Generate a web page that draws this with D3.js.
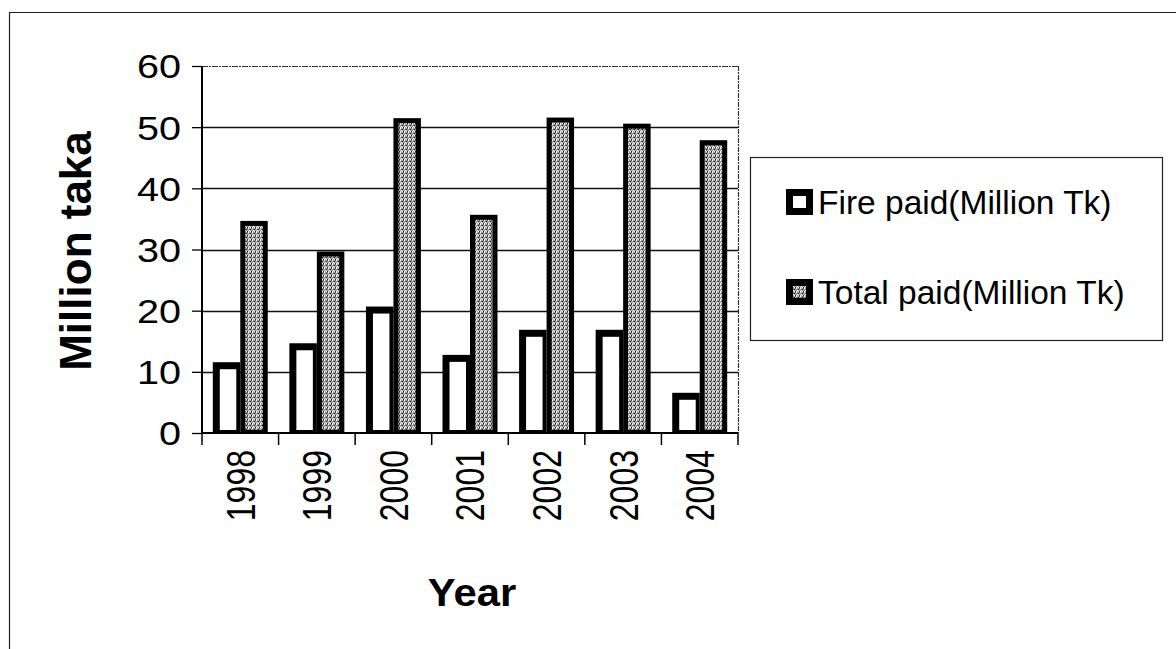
<!DOCTYPE html>
<html><head><meta charset="utf-8">
<script src="https://cdn.jsdelivr.net/npm/d3@7"></script>
<style>
html,body{margin:0;padding:0;background:#fff;}
text{font-family:Arial,"Liberation Sans",sans-serif;fill:#000;}
</style></head>
<body>
<svg id="c" width="1176" height="649"></svg>
<script>
const years = ["1998","1999","2000","2001","2002","2003","2004"];
const seriesNames = ["Fire paid(Million Tk)","Total paid(Million Tk)"];
const firePaid = [11, 14.1, 20.1, 12.2, 16.3, 16.3, 6];
const totalPaid = [34.1, 29.1, 50.9, 35.1, 51, 50, 47.3];
const yTicks = [0,10,20,30,40,50,60];

const svg = d3.select("#c");
const defs = svg.append("defs");
const pat = defs.append("pattern").attr("id","stip").attr("width",4).attr("height",4).attr("patternUnits","userSpaceOnUse");
pat.append("rect").attr("width",4).attr("height",4).attr("fill","#a0a0a0");
[[0,0,"#fff"],[2,1,"#222"],[1,2,"#fff"],[3,3,"#222"],[3,0,"#555"],[0,3,"#eee"],[2,3,"#fff"],[1,1,"#666"]].forEach(p=>{
  pat.append("rect").attr("x",p[0]).attr("y",p[1]).attr("width",1).attr("height",1).attr("fill",p[2]);
});

const L=202, R=738, T=66, B=433;
const y = d3.scaleLinear().domain([0,60]).range([B,T]);
const x0 = d3.scaleBand().domain(years).range([L,R]).padding(0);
const gap = 10.8;
const x1 = d3.scaleBand().domain(seriesNames).range([gap, x0.bandwidth()-gap]).padding(0);

svg.append("path").attr("d","M9.5,649 V12.5 H1176").attr("fill","none").attr("stroke","#222").attr("stroke-width",1.2);

svg.append("g").selectAll("line").data(yTicks.filter(t=>t>0&&t<60)).join("line")
  .attr("x1",L).attr("x2",R).attr("y1",d=>Math.round(y(d))+0.5).attr("y2",d=>Math.round(y(d))+0.5)
  .attr("stroke","#111").attr("stroke-width",1.3);
svg.append("line").attr("x1",L).attr("x2",R).attr("y1",y(60)+0.5).attr("y2",y(60)+0.5)
  .attr("stroke","#333").attr("stroke-width",1.2).attr("stroke-dasharray","6,1,2,1");
svg.append("line").attr("x1",R+0.5).attr("x2",R+0.5).attr("y1",T).attr("y2",B)
  .attr("stroke","#333").attr("stroke-width",1.2).attr("stroke-dasharray","5,1,2,1");

const rows = years.map((yr,i)=>({yr, vals:[firePaid[i], totalPaid[i]]}));
const g = svg.append("g");
rows.forEach(r=>{
  r.vals.forEach((v,k)=>{
    const bx = x0(r.yr)+x1(seriesNames[k]);
    const bw = x1.bandwidth();
    const top = y(v)-3.5;
    const bwid = k===0?7:5;
    g.append("rect").attr("x",bx).attr("y",top).attr("width",bw).attr("height",B-top).attr("fill","#000");
    g.append("rect").attr("x",bx+bwid).attr("y",top+bwid).attr("width",bw-bwid*2 + (k===0?3:0)).attr("height",Math.max(0,B-3-(top+bwid)))
      .attr("fill",k===0?"#fff":"url(#stip)");
  });
});

const ya = svg.append("g").attr("transform",`translate(${L},0)`)
  .call(d3.axisLeft(y).tickValues(yTicks).tickSize(10).tickPadding(12));
ya.select(".domain").attr("stroke","#000").attr("stroke-width",2).attr("d",`M0,${T}V${B}`);
ya.selectAll(".tick line").attr("stroke","#000").attr("stroke-width",1.3);
ya.selectAll(".tick text").attr("font-size",33).attr("dy","0.36em").attr("x",0)
  .attr("transform","translate(-21,0) scale(1.2,1)");

const xa = svg.append("g").attr("transform",`translate(0,${B})`)
  .call(d3.axisBottom(x0).tickSize(0).tickPadding(0));
xa.select(".domain").attr("stroke","#000").attr("stroke-width",2).attr("d",`M${L},0H${R}`);
xa.selectAll(".tick text").attr("font-size",32)
  .attr("transform","translate(0,17) scale(1.25,1) rotate(-90)").attr("text-anchor","end").attr("x",0).attr("y",0).attr("dy","0.36em");
xa.append("g").selectAll("line").data(d3.range(years.length+1)).join("line")
  .attr("x1",i=>L+i*x0.step()).attr("x2",i=>L+i*x0.step()).attr("y1",0).attr("y2",12)
  .attr("stroke","#000").attr("stroke-width",1.5);

svg.append("text").attr("transform","translate(91,251) rotate(-90)").attr("text-anchor","middle")
  .attr("font-size",44).attr("font-weight","bold").text("Million taka");
svg.append("text").attr("transform","translate(472,606) scale(1.1,1)").attr("text-anchor","middle")
  .attr("font-size",38).attr("font-weight","bold").text("Year");

const lg = svg.append("g");
lg.append("rect").attr("x",750.5).attr("y",157.5).attr("width",412).attr("height",183)
  .attr("fill","#fff").attr("stroke","#222").attr("stroke-width",1.2);
seriesNames.forEach((s,k)=>{
  const cy = k===0?202:292;
  lg.append("rect").attr("x",786).attr("y",cy-13).attr("width",27).attr("height",26).attr("fill","#000");
  lg.append("rect").attr("x",793).attr("y",cy-6).attr("width",13).attr("height",12).attr("fill",k===0?"#fff":"url(#stip)");
  lg.append("text").attr("x",818).attr("y",cy).attr("dy","0.36em").attr("font-size",33.5).text(s);
});
</script>
</body></html>
